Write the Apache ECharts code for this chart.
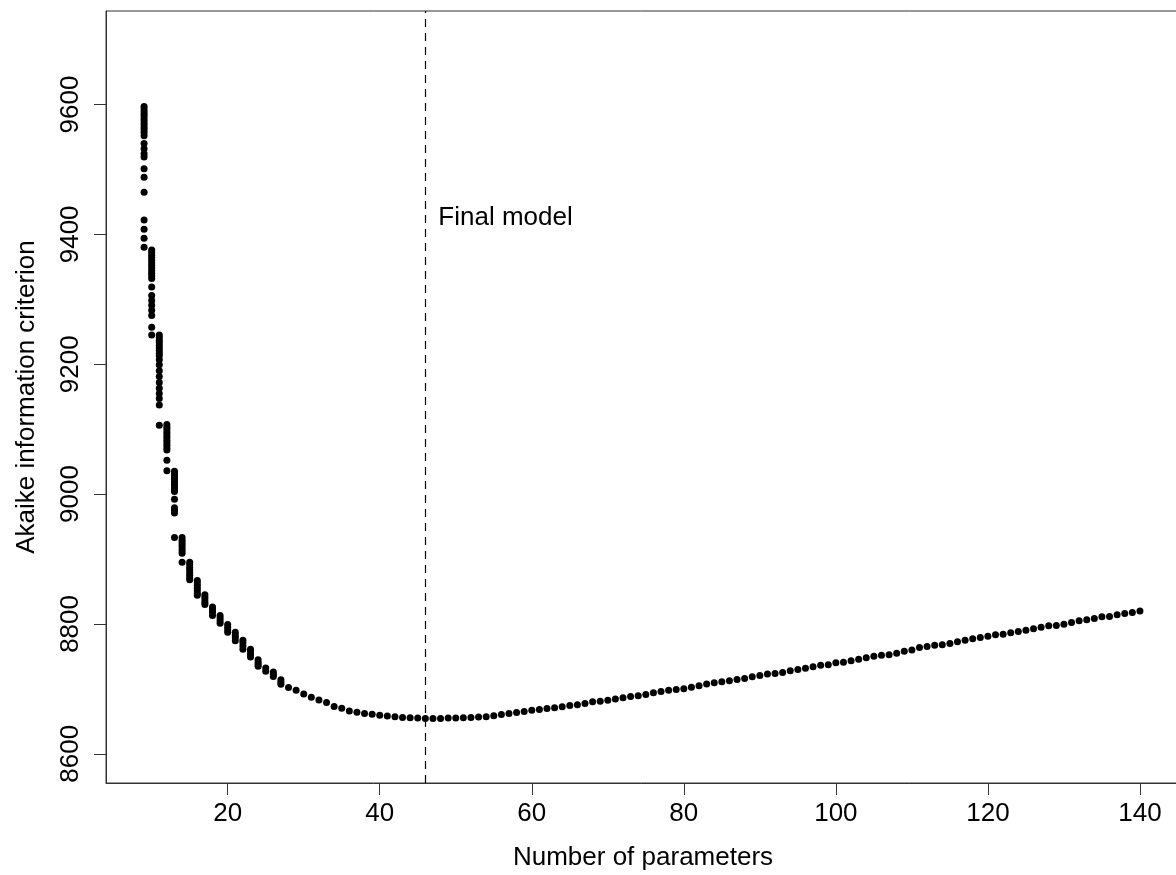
<!DOCTYPE html>
<html>
<head>
<meta charset="utf-8">
<script src="https://cdn.jsdelivr.net/npm/echarts@6/dist/echarts.min.js"></script>
<style>
html,body{margin:0;padding:0;background:#fff;}
#chart{width:1176px;height:875px;}
</style>
</head>
<body>
<div id="chart"></div>
<script>
// ---- data ----
// parameter counts that have several candidate models (vertical clusters)
const denseParams = [9, 10, 11, 12, 13, 14, 15, 16, 17, 18, 19, 20, 21, 22, 23, 24, 25, 26, 27];
const denseAIC = [
  [9597, 9593, 9589, 9585, 9581, 9577, 9573, 9569, 9565, 9561, 9557, 9552, 9540, 9532, 9524, 9519, 9501, 9488, 9465, 9422, 9408, 9394, 9380],
  [9376, 9372, 9368, 9364, 9360, 9356, 9352, 9348, 9344, 9340, 9336, 9332, 9319, 9306, 9298, 9291, 9283, 9275, 9257, 9245],
  [9245, 9241, 9237, 9233, 9229, 9225, 9221, 9217, 9213, 9207, 9199, 9190, 9181, 9172, 9163, 9155, 9147, 9137, 9106],
  [9107, 9103, 9099, 9095, 9091, 9087, 9083, 9079, 9075, 9071, 9068, 9052, 9036],
  [9035, 9031, 9027, 9023, 9019, 9015, 9011, 9007, 9004, 8992, 8979, 8975, 8971, 8933],
  [8933, 8929, 8925, 8921, 8917, 8913, 8909, 8895],
  [8895, 8891, 8887, 8883, 8879, 8875, 8871, 8868],
  [8867, 8863, 8859, 8855, 8851, 8847, 8844],
  [8845, 8841, 8837, 8833, 8830],
  [8826, 8822, 8818, 8813],
  [8813, 8809, 8805, 8801],
  [8799, 8795, 8791, 8787],
  [8787, 8783, 8779, 8774],
  [8775, 8771, 8766, 8761],
  [8761, 8757, 8753, 8749],
  [8745, 8741, 8738, 8735],
  [8732, 8727],
  [8726, 8722, 8719],
  [8714, 8710, 8707]
];
// parameter counts with one model each
const tailParams = [
  28, 29, 30, 31, 32, 33, 34, 35, 36, 37, 38, 39, 40, 41, 42, 43, 44, 45, 46, 47,
  48, 49, 50, 51, 52, 53, 54, 55, 56, 57, 58, 59, 60, 61, 62, 63, 64, 65, 66, 67,
  68, 69, 70, 71, 72, 73, 74, 75, 76, 77, 78, 79, 80, 81, 82, 83, 84, 85, 86, 87,
  88, 89, 90, 91, 92, 93, 94, 95, 96, 97, 98, 99, 100, 101, 102, 103, 104, 105, 106, 107,
  108, 109, 110, 111, 112, 113, 114, 115, 116, 117, 118, 119, 120, 121, 122, 123, 124, 125, 126, 127,
  128, 129, 130, 131, 132, 133, 134, 135, 136, 137, 138, 139, 140
];
const tailAIC = [
  8702, 8698, 8692, 8687, 8683, 8679, 8673, 8670, 8666, 8664, 8662, 8661, 8659.5, 8658, 8657, 8656, 8655.5, 8655, 8654.5, 8654.5,
  8654.5, 8655, 8655, 8655.5, 8656, 8656.5, 8657, 8658.5, 8660.6, 8662.1, 8663.7, 8665.2, 8667.2, 8668.3, 8669.8, 8670.8, 8672.4, 8674.4, 8675.5, 8677.5,
  8680, 8681.1, 8682.6, 8684.2, 8686.2, 8688.3, 8689.3, 8691.4, 8693.9, 8696, 8698, 8699.1, 8700.1, 8702.6, 8704.7, 8707.3, 8709.3, 8710.9, 8712.4, 8714.4,
  8716, 8718.5, 8720.6, 8722.7, 8723.7, 8725.2, 8727.8, 8729.8, 8731.9, 8733.9, 8736.5, 8737, 8740.1, 8741.1, 8743.2, 8745.7, 8747.8, 8750.4, 8751.9, 8752.4,
  8755, 8758, 8760, 8763.7, 8765.2, 8767.3, 8768, 8769.9, 8772.4, 8775, 8777, 8779.1, 8781.1, 8783.2, 8784.2, 8786.3, 8788.3, 8790.4, 8792.4, 8795,
  8797, 8797.5, 8799.6, 8802.2, 8804.7, 8806.3, 8808.3, 8810.9, 8811.5, 8814, 8816, 8817.6, 8820
];
const xTicks = [20, 40, 60, 80, 100, 120, 140];
const yTicks = [8600, 8800, 9000, 9200, 9400, 9600];
const finalModelParams = 46;
const finalModelLabelAIC = 9425;
const finalModelText = 'Final model';
const xTitle = 'Number of parameters';
const yTitle = 'Akaike information criterion';

// ---- build points ----
const points = [];
denseParams.forEach((p, i) => denseAIC[i].forEach(v => points.push([p, v])));
tailParams.forEach((p, i) => points.push([p, tailAIC[i]]));

const FONT = '"Liberation Sans", Arial, sans-serif';
const chart = echarts.init(document.getElementById('chart'), null, {renderer: 'canvas'});
chart.setOption({
  backgroundColor: '#ffffff',
  animation: false,
  grid: {
    left: 106, top: 11, width: 1074, height: 772,
    outerBoundsMode: 'none', containLabel: false,
    show: true, borderColor: '#333', borderWidth: 1, backgroundColor: 'transparent'
  },
  xAxis: {
    type: 'value', min: 3.99, max: 145.27,
    name: xTitle, nameLocation: 'middle', nameGap: 62,
    nameTextStyle: {fontFamily: FONT, fontSize: 26, color: '#000'},
    axisLine: {show: true, lineStyle: {color: '#333', width: 1}},
    axisTick: {show: true, inside: false, length: 12, lineStyle: {color: '#333', width: 1}, customValues: xTicks},
    axisLabel: {show: true, margin: 18, fontFamily: FONT, fontSize: 26, color: '#000', customValues: xTicks,
      formatter: v => String(v)},
    splitLine: {show: false}
  },
  yAxis: {
    type: 'value', min: 8555, max: 9744,
    name: yTitle, nameLocation: 'middle', nameGap: 66, nameRotate: 90,
    nameTextStyle: {fontFamily: FONT, fontSize: 26, color: '#000'},
    axisLine: {show: true, lineStyle: {color: '#333', width: 1}},
    axisTick: {show: true, inside: false, length: 12, lineStyle: {color: '#333', width: 1}, customValues: yTicks},
    axisLabel: {show: true, rotate: 90, margin: 22, fontFamily: FONT, fontSize: 26, color: '#000', customValues: yTicks,
      formatter: v => String(v)},
    splitLine: {show: false}
  },
  series: [
    {
      type: 'scatter',
      data: points,
      symbol: 'circle',
      symbolSize: 7,
      itemStyle: {color: '#000', opacity: 1},
      silent: true,
      markLine: {
        silent: true,
        symbol: ['none', 'none'],
        label: {show: false},
        lineStyle: {color: '#000', width: 1.2, type: [8, 6], opacity: 1},
        data: [{xAxis: finalModelParams}]
      }
    },
    {
      type: 'scatter',
      data: [[finalModelParams, finalModelLabelAIC]],
      symbolSize: 0,
      silent: true,
      itemStyle: {opacity: 1},
      label: {
        show: true, position: 'right', distance: 13,
        formatter: finalModelText,
        fontFamily: FONT, fontSize: 26, color: '#000', opacity: 1
      }
    }
  ]
});
</script>
</body>
</html>
